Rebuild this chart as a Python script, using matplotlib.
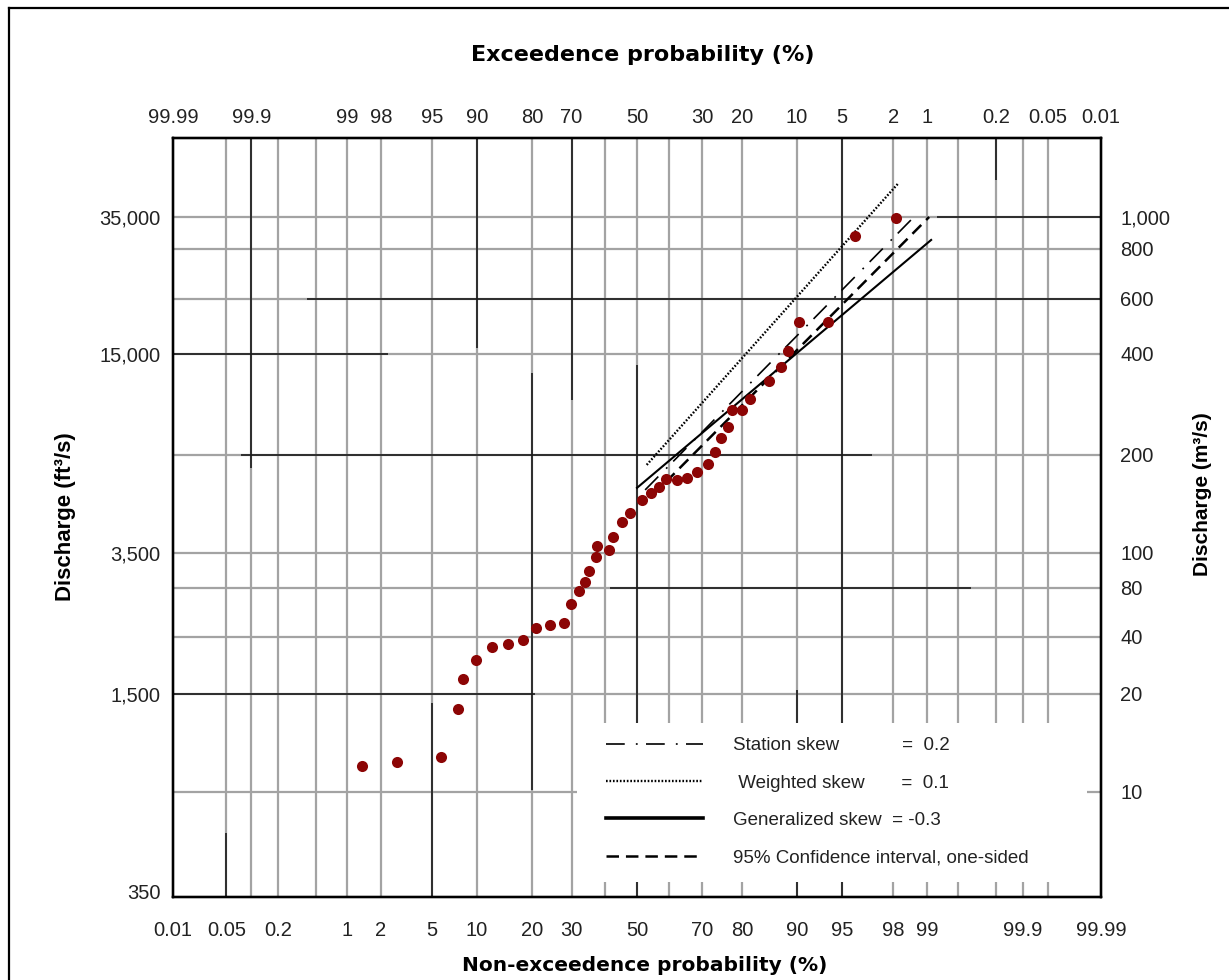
import numpy as np
import matplotlib
matplotlib.use("Agg")
import matplotlib.pyplot as plt
from matplotlib.lines import Line2D
from matplotlib.patches import Rectangle
from matplotlib.ticker import FixedLocator, FixedFormatter, NullLocator
from statistics import NormalDist

plt.rcParams['lines.scale_dashes'] = False

# ---------------- data ----------------
# plotted annual peaks: non-exceedance probability (%) and discharge (ft3/s)
obs_prob = [1.37, 2.7, 5.8, 7.6, 8.1, 9.8, 12.3, 15.1, 18.0, 20.8, 24.4, 27.8,
            29.8, 32.0, 33.7, 35.1, 37.0, 37.3, 41.1, 42.5, 45.3, 47.9, 51.7,
            54.5, 57.0, 59.2, 62.5, 65.5, 68.4, 71.5, 73.4, 75.0, 76.6, 77.6,
            79.9, 81.7, 85.5, 87.6, 88.7, 90.3, 93.7, 96.0, 98.1]
obs_q = [815, 837, 863, 1204, 1476, 1678, 1834, 1873, 1924, 2089, 2141, 2167,
         2473, 2692, 2875, 3101, 3405, 3679, 3573, 3913, 4340, 4614, 5033,
         5271, 5489, 5812, 5773, 5839, 6084, 6454, 6993, 7683, 8317, 9328,
         9328, 10034, 11376, 12544, 13976, 17010, 17010, 30793, 34690]

# fitted frequency curves (end points)
station_prob = [52.6, 98.65]
station_q = [5390, 34760]
weighted_prob = [53.1, 98.2]
weighted_q = [6398, 44190]
general_prob = [50.0, 99.08]
general_q = [5467, 29900]
ci_prob = [54.8, 99.04]
ci_q = [5174, 35000]

legend_labels = ["Station skew            =  0.2",
                 " Weighted skew       =  0.1",
                 "Generalized skew  = -0.3",
                 "95% Confidence interval, one-sided"]

# axis ticks
bottom_ticks = [0.01, 0.05, 0.2, 1, 2, 5, 10, 20, 30, 50, 70, 80, 90, 95, 98, 99, 99.9, 99.99]
bottom_labels = ["0.01", "0.05", "0.2", "1", "2", "5", "10", "20", "30", "50", "70",
                 "80", "90", "95", "98", "99", "99.9", "99.99"]
top_ticks = [99.99, 99.9, 99, 98, 95, 90, 80, 70, 50, 30, 20, 10, 5, 2, 1, 0.2, 0.05, 0.01]
top_labels = ["99.99", "99.9", "99", "98", "95", "90", "80", "70", "50", "30", "20",
              "10", "5", "2", "1", "0.2", "0.05", "0.01"]
left_ticks = [35000, 13690, 3500, 1331, 343]
left_labels = ["35,000", "15,000", "3,500", "1,500", "350"]
right_ticks = [35000, 28120, 19950, 13690, 6850, 3500, 2754, 1967, 1331, 680]
right_labels = ["1,000", "800", "600", "400", "200", "100", "80", "40", "20", "10"]

# grid of the probability paper
grid_prob = [0.05, 0.1, 0.2, 0.5, 1, 2, 5, 10, 20, 30, 40, 50, 60, 70, 80, 90,
             95, 98, 99, 99.5, 99.8, 99.9, 99.95]
grid_q = [35000, 28120, 19950, 13690, 6850, 3500, 2754, 1967, 1331]

XMIN, XMAX = 0.01, 99.99
YMIN, YMAX = 331, 60140

# ---------------- probability scale ----------------
_nd = NormalDist()
_ppf = np.vectorize(lambda q: _nd.inv_cdf(q / 100.0), otypes=[float])
_cdf = np.vectorize(lambda t: _nd.cdf(t) * 100.0, otypes=[float])


def fwd(p):
    p = np.clip(np.asarray(p, dtype=float), 1e-9, 100 - 1e-9)
    return _ppf(p)


def inv(z):
    return _cdf(np.asarray(z, dtype=float))


W, H = 1229, 980
fig = plt.figure(figsize=(W / 100, H / 100), dpi=100)
ax = fig.add_axes([173 / W, 83 / H, 928 / W, 759 / H])
ax.set_xscale('function', functions=(fwd, inv))
ax.set_yscale('log')
ax.set_xlim(XMIN, XMAX)
ax.set_ylim(YMIN, YMAX)

GREY = '#a3a3a3'
BLK = '#1a1a1a'

# grey grid
ax.vlines(grid_prob, YMIN, YMAX, colors=GREY, lw=1.6, zorder=1)
ax.hlines(grid_q, XMIN, XMAX, colors=GREY, lw=1.6, zorder=1)
ax.hlines([680], XMIN, 31.5, colors=GREY, lw=1.6, zorder=1)
ax.hlines([680], 99.983, XMAX, colors=GREY, lw=1.6, zorder=1)

# darker segments of the grid
vb = [(0.1, 6265, YMAX), (10, 14260, YMAX), (20, 689, 12015), (30, 9985, YMAX),
      (50, YMIN, 12695), (5, YMIN, 1252), (0.05, YMIN, 514), (90, YMIN, 1369),
      (95, YMIN, YMAX), (99.8, 45100, YMAX)]
for p, a, b in vb:
    ax.vlines(p, a, b, colors=BLK, lw=1.2, zorder=1.5)
hb = [(35000, 99.19, XMAX), (19950, 0.41, XMAX), (13690, XMIN, 2.3),
      (6850, 0.075, 97.0), (2754, 41.4, 99.63), (1331, XMIN, 20.7)]
for q, a, b in hb:
    ax.hlines(q, a, b, colors=BLK, lw=1.2, zorder=1.5)

# white legend area
ax.add_patch(Rectangle(((582 - 173) / 928, (897 - 882) / 759), (1087 - 582) / 928,
                       (882 - 723) / 759, transform=ax.transAxes,
                       facecolor='white', edgecolor='none', zorder=2))

# curves
st_style = dict(color='black', lw=1.2, linestyle=(0, (13.5, 8, 1.3, 6)))
wt_style = dict(color='black', lw=1.7, linestyle=(0, (1.2, 1.3)))
gn_style = dict(color='black', lw=1.5, linestyle='-')
ci_style = dict(color='black', lw=1.8, linestyle=(0, (9, 5)))
ax.plot(station_prob, station_q, zorder=3, **st_style)
ax.plot(weighted_prob, weighted_q, zorder=3, **wt_style)
ax.plot(general_prob, general_q, zorder=3, **gn_style)
ax.plot(ci_prob, ci_q, zorder=3, **ci_style)

ax.plot(obs_prob, obs_q, 'o', color='#8c0505', markersize=8, markeredgewidth=0, zorder=4)

TICKFONT = ['Liberation Sans']
TFS = 14.5

ax.xaxis.set_major_locator(FixedLocator(bottom_ticks))
ax.xaxis.set_major_formatter(FixedFormatter(bottom_labels))
ax.xaxis.set_minor_locator(NullLocator())
ax.yaxis.set_major_locator(FixedLocator(left_ticks))
ax.yaxis.set_major_formatter(FixedFormatter(left_labels))
ax.yaxis.set_minor_locator(NullLocator())
ax.tick_params(axis='x', length=0, pad=17, labelsize=TFS)
ax.tick_params(axis='y', length=0, pad=9, labelsize=TFS)

axt = ax.twiny()
axt.set_xscale('function', functions=(fwd, inv))
axt.set_xlim(XMAX, XMIN)
axt.xaxis.set_major_locator(FixedLocator(top_ticks))
axt.xaxis.set_major_formatter(FixedFormatter(top_labels))
axt.xaxis.set_minor_locator(NullLocator())
axt.tick_params(axis='x', length=0, pad=8, labelsize=TFS)

axr = ax.twinx()
axr.set_yscale('log')
axr.set_ylim(YMIN, YMAX)
axr.yaxis.set_major_locator(FixedLocator(right_ticks))
axr.yaxis.set_major_formatter(FixedFormatter(right_labels))
axr.yaxis.set_minor_locator(NullLocator())
axr.tick_params(axis='y', length=0, pad=14, labelsize=TFS)

for a in (ax, axt, axr):
    for lab in a.get_xticklabels() + a.get_yticklabels():
        lab.set_fontfamily(TICKFONT)
        lab.set_color('#222222')
    for s in a.spines.values():
        s.set_linewidth(1.6)
        s.set_zorder(6)

# legend
handles = [Line2D([], [], **st_style), Line2D([], [], **wt_style),
           Line2D([], [], color='black', lw=2.6), Line2D([], [], **ci_style)]
leg = ax.legend(handles, legend_labels, loc='upper left',
                bbox_to_anchor=((606 - 173) / 928, (897 - 737) / 759),
                frameon=False, borderpad=0, borderaxespad=0, handlelength=5.2,
                handletextpad=1.6, labelspacing=1.08,
                prop={'family': 'Liberation Sans', 'size': 13.5})
leg.set_zorder(5)
for t in leg.get_texts():
    t.set_color('#222222')

# axis titles
fig.text(643 / W, 1 - 55 / H, "Exceedence probability (%)", ha='center', va='center',
         fontsize=16, fontweight='bold', family='DejaVu Sans')
fig.text(645 / W, 1 - 965 / H, "Non-exceedence probability (%)", ha='center', va='center',
         fontsize=14.5, fontweight='bold', family='DejaVu Sans')
fig.text(65 / W, 1 - 517 / H, "Discharge (ft³/s)", ha='center', va='center', rotation=90,
         fontsize=16, fontweight='bold', family='Liberation Sans')
fig.text(1203 / W, 1 - 494 / H, "Discharge (m³/s)", ha='center', va='center', rotation=90,
         fontsize=15, fontweight='bold', family='Liberation Sans')

# outer border of the page
fig.add_artist(Line2D([9 / W, 9 / W], [0, 1 - 8 / H], transform=fig.transFigure,
                      color='black', lw=1.6))
fig.add_artist(Line2D([9 / W, 1], [1 - 8 / H, 1 - 8 / H], transform=fig.transFigure,
                      color='black', lw=1.6))

fig.savefig("out.png", dpi=100, facecolor='white')
